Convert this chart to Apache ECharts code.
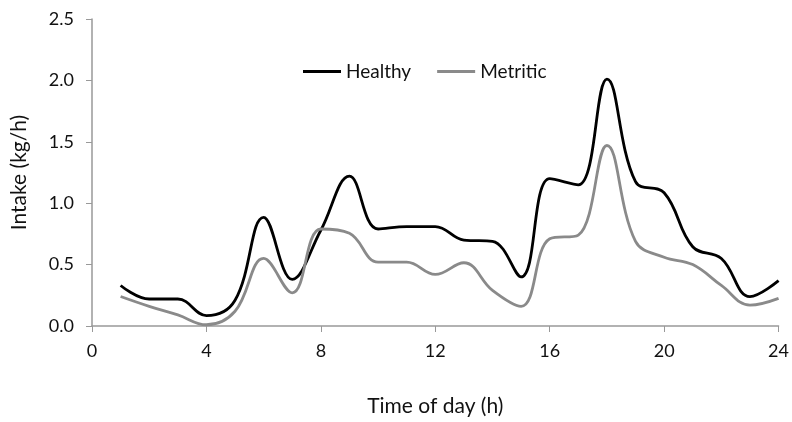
<!DOCTYPE html>
<html><head><meta charset="utf-8">
<script src="https://cdn.jsdelivr.net/npm/echarts@6/dist/echarts.min.js"></script>
<style>html,body{margin:0;padding:0;background:#fff}#c{width:792px;height:422px}</style>
</head><body><div id="c"></div>
<script>
const hours = [1,2,3,4,5,6,7,8,9,10,11,12,13,14,15,16,17,18,19,20,21,22,23,24];
const healthy = [0.33,0.22,0.22,0.085,0.21,0.885,0.38,0.78,1.22,0.79,0.81,0.81,0.70,0.69,0.40,1.20,1.15,2.01,1.175,1.085,0.645,0.55,0.24,0.37];
const metritic = [0.24,0.16,0.09,0.01,0.12,0.55,0.27,0.79,0.755,0.52,0.52,0.42,0.515,0.29,0.16,0.71,0.74,1.47,0.69,0.56,0.50,0.33,0.17,0.225];
const xTicks = [0,4,8,12,16,20,24];
const yTicks = [0,0.5,1.0,1.5,2.0,2.5];
const seriesNames = ['Healthy','Metritic'];

const FONT = 'Lato';
const chart = echarts.init(document.getElementById('c'));
const pair = a => hours.map((h,i)=>[h,a[i]]);
chart.setOption({
  animation:false,
  textStyle:{fontFamily:FONT},
  grid:{left:92,right:13,top:19,bottom:96},
  legend:{
    data:seriesNames, top:57, left:298, itemWidth:38, itemHeight:3, itemGap:26,
    icon:'rect',
    textStyle:{fontFamily:FONT,fontSize:19,color:'#111'}
  },
  xAxis:{
    type:'value', min:xTicks[0], max:xTicks[xTicks.length-1], interval:4,
    name:'Time of day (h)', nameLocation:'middle', nameGap:70,
    nameTextStyle:{fontFamily:FONT,fontSize:21,color:'#111'},
    axisLine:{lineStyle:{color:'#999',width:1.5}},
    axisTick:{show:true,length:6,lineStyle:{color:'#999'}},
    axisLabel:{fontFamily:FONT,fontSize:18,color:'#111',margin:16},
    splitLine:{show:false}
  },
  yAxis:{
    type:'value', min:yTicks[0], max:yTicks[yTicks.length-1], interval:0.5,
    name:'Intake (kg/h)', nameLocation:'middle', nameGap:62, nameRotate:90,
    nameTextStyle:{fontFamily:FONT,fontSize:21,color:'#111'},
    axisLine:{show:true,lineStyle:{color:'#999',width:1.5}},
    axisTick:{show:true,length:6,lineStyle:{color:'#999'}},
    axisLabel:{fontFamily:FONT,fontSize:18,color:'#111',margin:18,formatter:v=>v.toFixed(1)},
    splitLine:{show:false}
  },
  series:[
    {name:seriesNames[0],type:'line',data:pair(healthy),smooth:0.4,showSymbol:false,
     lineStyle:{color:'#000',width:2.8},itemStyle:{color:'#000'}},
    {name:seriesNames[1],type:'line',data:pair(metritic),smooth:0.4,showSymbol:false,
     lineStyle:{color:'#8a8a8a',width:2.8},itemStyle:{color:'#8a8a8a'}}
  ]
});
</script></body></html>
